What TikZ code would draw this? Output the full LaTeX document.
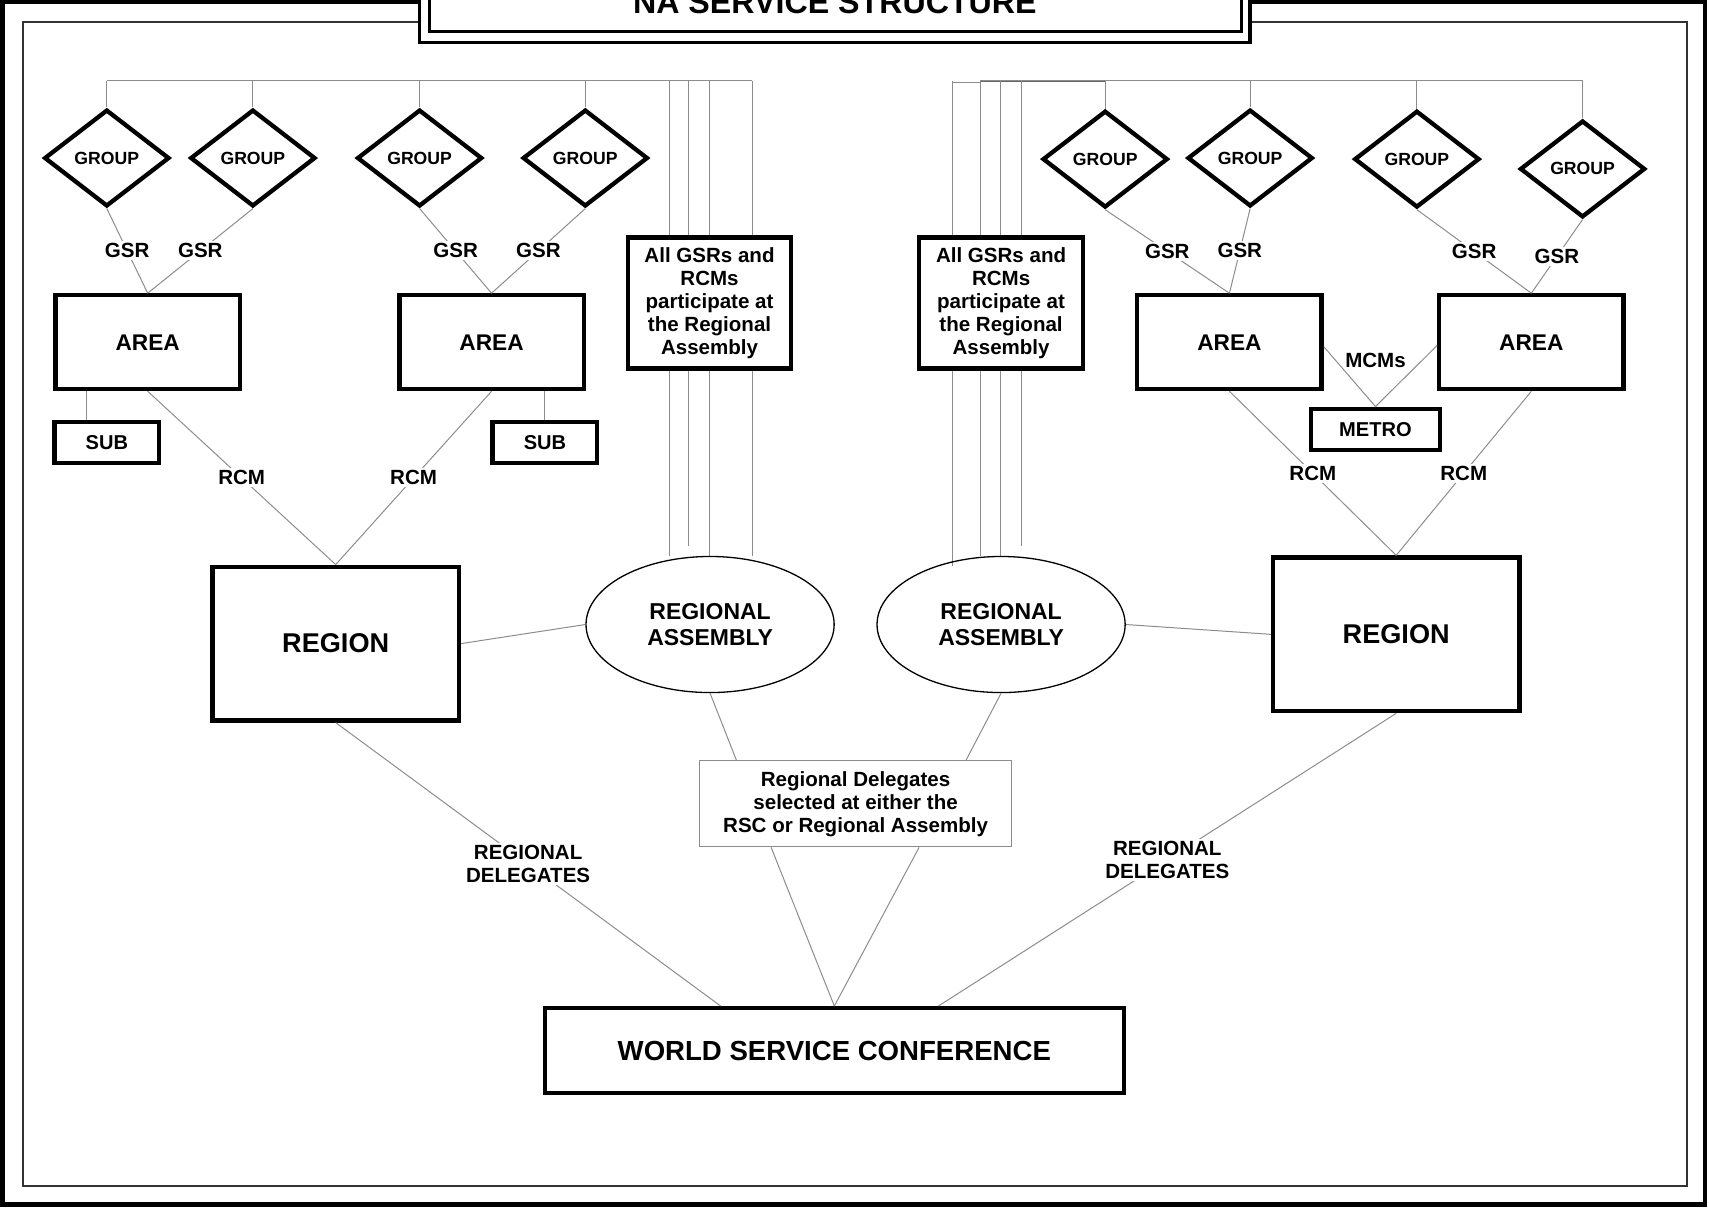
\documentclass[tikz,border=0pt]{standalone}
\usepackage{fontspec}
\setmainfont{Liberation Sans}
\usetikzlibrary{shapes.geometric,calc}

\tikzset{
  conn/.style={draw=black!45,line width=0.65pt},
  group/.style={diamond,draw,line width=2.8pt,fill=white,inner sep=0pt,
    minimum width=2.87cm,minimum height=2.22cm,font=\fontsize{11.5}{13}\selectfont\bfseries},
  box/.style={rectangle,draw,line width=2.8pt,fill=white,inner sep=0pt,align=center},
  lbl/.style={fill=white,inner sep=1.5pt,align=center,font=\fontsize{13.4}{15}\selectfont\bfseries},
  areabox/.style={box,minimum width=4.225cm,minimum height=2.15cm,font=\fontsize{14.8}{17}\selectfont\bfseries},
  subbox/.style={box,minimum width=2.4cm,minimum height=0.95cm,font=\fontsize{13.1}{15}\selectfont\bfseries},
  regionbox/.style={box,minimum width=5.65cm,minimum height=3.525cm,font=\fontsize{17.7}{20}\selectfont\bfseries},
  allbox/.style={box,minimum width=3.75cm,minimum height=3.0cm,font=\fontsize{13.4}{15.1}\selectfont\bfseries},
  assembly/.style={ellipse,draw,line width=0.85pt,inner sep=0pt,align=center,
    minimum width=5.69cm,minimum height=3.12cm,font=\fontsize{15}{17}\selectfont\bfseries}
}

\begin{document}
\begin{tikzpicture}[x=0.025cm,y=-0.025cm]

    \useasboundingbox (0,0) rectangle (1568,1108);
    \clip (0,0) rectangle (1568,1108);

    \draw[line width=3pt] (2.5,1.5) rectangle (1564.5,1105);
    \draw[line width=1pt,draw=black!80] (21,20) rectangle (1548,1088);

    \draw[line width=2.3pt,fill=white] (385,-20) rectangle (1147,39);
    \draw[line width=2.3pt] (394,-20) rectangle (1139,29);
    \node[anchor=base,font=\fontsize{21}{24}\selectfont\bfseries] (title) at (766,12) {NA SERVICE STRUCTURE};

    \foreach \n/\x/\y in {g1/98/145, g2/232/145, g3/385/145, g4/537/145,
                          g5/1014/146, g6/1147/145, g7/1300/146, g8/1452/155}
    \node[group] (\n) at (\x,\y) {GROUP};

    \coordinate (lbus) at (98,74);
    \coordinate (rbus) at (1452,74);

    \foreach \n in {g1,g2,g3,g4}
    \draw[conn] (\n.north) -- (\n.north |- lbus);
    \foreach \n in {g5,g6,g7,g8}
    \draw[conn] (\n.north) -- (\n.north |- rbus);

    \draw[conn] (lbus) -- (690,74);
    \draw[conn] (874,75.5) -- (900,75.5) -- (900,74) -- (rbus);
    \draw[conn,draw=black!60] (900,74.5) -- (1014,74.5);

    \foreach \x/\y in {614/510, 632/501, 651/510, 690/510, 874/519, 900/510, 918/510, 937/501}
    \draw[conn] (\x,74) -- (\x,\y);

    \node[areabox] (a1) at (135.5,314) {AREA};
    \node[areabox] (a2) at (451,314) {AREA};
    \node[areabox] (a3) at (1128,314) {AREA};
    \node[areabox] (a4) at (1405,314) {AREA};

    \node[subbox] (s1) at (98,406) {SUB};
    \node[subbox] (s2) at (500,406) {SUB};
    \node[subbox,minimum width=2.95cm] (metro) at (1262,394) {METRO};

    \node[regionbox] (r1) at (308,590.5) {REGION};
    \node[regionbox] (r2) at (1281,582) {REGION};

    \node[allbox] (all1) at (651,278) {All GSRs and\\RCMs\\participate at\\the Regional\\Assembly};
    \node[allbox] (all2) at (918.5,278) {All GSRs and\\RCMs\\participate at\\the Regional\\Assembly};

    \node[assembly] (ra1) at (651.5,573) {REGIONAL\\ASSEMBLY};
    \node[assembly] (ra2) at (918.5,573) {REGIONAL\\ASSEMBLY};

    \node[rectangle,draw=black!45,line width=0.65pt,fill=white,inner sep=0pt,align=center,
      minimum width=7.15cm,minimum height=1.975cm,font=\fontsize{13.4}{15}\selectfont\bfseries]
      (del) at (785,737.5) {Regional Delegates\\selected at either the\\RSC or Regional Assembly};

    \node[box,minimum width=13.275cm,minimum height=1.95cm,font=\fontsize{18}{21}\selectfont\bfseries]
      (wsc) at (765.5,964) {WORLD SERVICE CONFERENCE};

    \draw[conn] (g1.south) -- node[lbl] {GSR} (a1.north);
    \draw[conn] (g2.south) -- node[lbl] {GSR} (a1.north);
    \draw[conn] (g3.south) -- node[lbl] {GSR} (a2.north);
    \draw[conn] (g4.south) -- node[lbl] {GSR} (a2.north);
    \draw[conn] (g5.south) -- node[lbl] {GSR} (a3.north);
    \draw[conn] (g6.south) -- node[lbl] {GSR} (a3.north);
    \draw[conn] (g7.south) -- node[lbl] {GSR} (a4.north);
    \draw[conn] (g8.south) -- node[lbl] {GSR} (a4.north);

    \coordinate (s1x) at (79,0);
    \draw[conn] (a1.south -| s1x) -- (s1.north -| s1x);
    \draw[conn] (a2.south -| s2.north) -- (s2.north);

    \draw[conn] (a1.south) -- node[lbl] {RCM} (r1.north);
    \draw[conn] (a2.south) -- node[lbl] {RCM} (r1.north);
    \draw[conn] (a3.south) -- node[lbl] {RCM} (r2.north);
    \draw[conn] (a4.south) -- node[lbl] {RCM} (r2.north);

    \draw[conn] ($(a3.east)+(0,4)$) -- (metro.north) -- ($(a4.west)+(0,3)$);
    \node[lbl,fill=none] (mcm) at (1262,331) {MCMs};

    \draw[conn] (r1.east) -- (ra1.west);
    \draw[conn] (ra2.east) -- (r2.west);

    \draw[conn] (ra1.south) -- ($(del.north west)!0.119!(del.north east)$);
    \draw[conn] (ra2.south) -- ($(del.north west)!0.853!(del.north east)$);
    \draw[conn] ($(del.south west)!0.23!(del.south east)$) -- (wsc.north);
    \draw[conn] ($(del.south west)!0.703!(del.south east)$) -- (wsc.north);

    \draw[conn] (r1.south) -- node[lbl] {REGIONAL\\DELEGATES} ($(wsc.north west)!0.305!(wsc.north east)$);
    \draw[conn] (r2.south) -- node[lbl] {REGIONAL\\DELEGATES} ($(wsc.north west)!0.6785!(wsc.north east)$);

  \end{tikzpicture}
\end{document}
